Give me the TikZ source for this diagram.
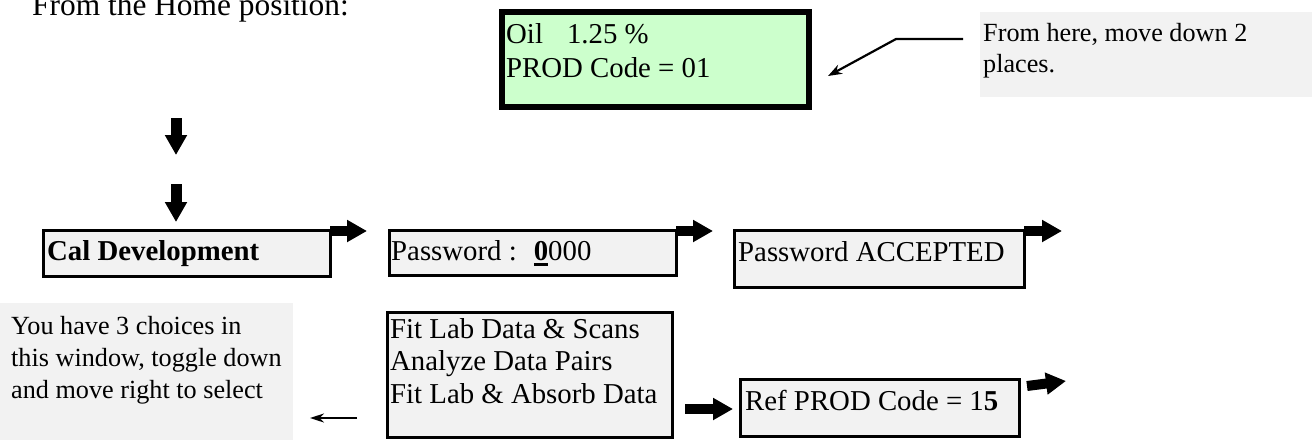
\documentclass[tikz,border=0pt]{standalone}
\usepackage{fontspec}
\setmainfont{Liberation Serif}
\usetikzlibrary{arrows.meta}
\definecolor{boxgray}{HTML}{F2F2F2}
\definecolor{lcdgreen}{HTML}{CCFFCC}
\tikzset{
  screen/.style={draw, line width=2.5pt, fill=boxgray, inner sep=0pt, anchor=north west},
  lcd/.style={draw, line width=6pt, fill=lcdgreen, inner sep=0pt},
  memo/.style={fill=boxgray, inner sep=0pt, anchor=north west},
  txt/.style={inner sep=0pt, anchor=base west, align=left, font=\fontsize{28.8}{32.5}\selectfont},
  small/.style={txt, font=\fontsize{26.2}{32}\selectfont},
  bigarrow/.style={line width=10pt, -{Triangle[length=20pt,width=21pt]}},
  thinarrow/.style={line width=2.2pt, -{Stealth[length=14pt,width=10pt]}}
}
\begin{document}
\begin{tikzpicture}[x=1pt,y=-1pt]
\useasboundingbox (0,0) rectangle (1315,440);
% title and the display (multi-line texts sit on their last baseline)
\node[txt, font=\fontsize{31.4}{36}\selectfont] (home) at (32,15) {From the Home position:};
\node[lcd, minimum width=307pt, minimum height=95pt] (lcd) at (655.5,59.5) {};
\node[txt, font=\fontsize{28.8}{34}\selectfont] (lcdtxt) at (506,77) {Oil\hspace{24pt}1.25 \%\\PROD Code = 01};
% notes
\node[memo, minimum width=332pt, minimum height=85pt] (hint) at (980,12) {};
\node[small, font=\fontsize{26.2}{31}\selectfont] (hinttxt) at (983,72) {From here, move down 2\\places.};
\node[memo, minimum width=293pt, minimum height=137pt] (choice) at (0,303) {};
\node[small] (choicetxt) at (11,398) {You have 3 choices in\\this window, toggle down\\and move right to select};
% screens
\node[screen, minimum width=287pt, minimum height=46pt] (cal) at (42,229) {};
\node[txt] (caltxt) at (47,260) {\textbf{Cal Development}};
\node[screen, minimum width=287pt, minimum height=45pt] (pass) at (388,229) {};
\node[txt] (passtxt) at (391,260) {Password :\hspace{17pt}\makebox[0pt][l]{\rule[-5.5pt]{14.4pt}{2.5pt}}\textbf{0}000};
\node[screen, minimum width=290pt, minimum height=57pt] (acc) at (733,229) {};
\node[txt] (acctxt) at (738,261) {Password ACCEPTED};
\node[screen, minimum width=285pt, minimum height=125pt] (fit) at (386,311) {};
\node[txt] (fittxt) at (390,403) {Fit Lab Data \& Scans\\Analyze Data Pairs\\Fit Lab \& Absorb Data};
\node[screen, minimum width=279pt, minimum height=57pt] (ref) at (739,378) {};
\node[txt] (reftxt) at (745,410) {Ref PROD Code = 1\textbf{5}};
% arrow ends
\coordinate (hA) at (963,39);
\coordinate (hB) at (896,39);
\coordinate (hC) at (828,76);
\coordinate (d1) at (176,118);
\coordinate (d2) at (176,155);
\coordinate (d3) at (176,184);
\coordinate (d4) at (176,222);
\coordinate (c1) at (330,231);
\coordinate (c2) at (367,231);
\coordinate (p1) at (676,231);
\coordinate (p2) at (713,231);
\coordinate (a1) at (1024,231);
\coordinate (a2) at (1062,231);
\coordinate (s1) at (357,418);
\coordinate (s2) at (310,418);
\coordinate (f1) at (685,409);
\coordinate (f2) at (733,409);
\coordinate (r1) at (1027,386);
\coordinate (r2) at (1066,381);
\draw[thinarrow] (hA)--(hB)--(hC);
\draw[bigarrow, line width=11pt] (d1)--(d2);
\draw[bigarrow, line width=11pt] (d3)--(d4);
\draw[bigarrow] (c1)--(c2);
\draw[bigarrow] (p1)--(p2);
\draw[bigarrow] (a1)--(a2);
\draw[thinarrow, -{Stealth[length=14pt,width=9pt]}] (s1)--(s2);
\draw[bigarrow] (f1)--(f2);
\draw[bigarrow] (r1)--(r2);
\end{tikzpicture}
\end{document}
